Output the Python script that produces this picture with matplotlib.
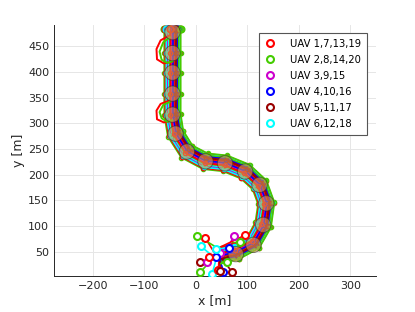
import matplotlib.pyplot as plt
import numpy as np
from matplotlib.patches import Circle

# centre line of the swarm
path_x = [45, 78, 112, 131, 137, 124, 96, 57, 19, -17, -39, -45, -45, -45, -45, -45]
path_y = [42, 50, 68, 102, 144, 180, 206, 222, 226, 245, 280, 317, 358, 399, 437, 484]

# target areas (circle centres)
zone_x = [78, 112, 131, 137, 124, 96, 57, 19, -17, -39, -45, -45, -45, -45, -45]
zone_y = [45, 63, 102, 144, 180, 206, 222, 226, 245, 280, 317, 358, 399, 437, 478]
zone_r = 15

# start positions of UAV 1..20
start_x = [19, 3, 75, 64, 9, 10, 96, 87, 22, 54, 70, 32, 44, 9, 48, 40, 48, 40, 25, 60]
start_y = [76, 81, 81, 57, 30, 60, 82, 68, 29, 11, 11, 6, 14, 10, 47, 40, 12, 55, 40, 30]

# lateral position of each UAV inside the band
lane = [-15, 16, -11, 11, -5, -13, 14, -12, 9, -9, 3, 7, -3, 5, 1, -1, -7, 12, 4, -16]

# detours on the left of the column
red_loop1_x = [-50, -68, -76, -75, -62, -46]
red_loop1_y = [472, 462, 445, 425, 417, 420]
green_loop1_x = [-50, -63, -70, -66, -55, -45]
green_loop1_y = [468, 458, 440, 424, 418, 421]
red_loop2_x = [-50, -68, -76, -75, -62, -46]
red_loop2_y = [345, 338, 325, 308, 302, 305]
green_loop2_x = [-50, -63, -70, -66, -55, -45]
green_loop2_y = [342, 336, 322, 310, 303, 306]

colors = ['#ff0000', '#44cc00', '#cc00cc', '#0000ff', '#990000', '#00ffff']
labels = ['UAV 1,7,13,19', 'UAV 2,8,14,20', 'UAV 3,9,15', 'UAV 4,10,16',
          'UAV 5,11,17', 'UAV 6,12,18']

plt.rcParams['font.family'] = 'DejaVu Sans'
fig = plt.figure(figsize=(4.15, 3.12), dpi=100)
ax = fig.add_axes([0.130, 0.115, 0.776, 0.805])

px = np.array(path_x, float)
py = np.array(path_y, float)
seg = np.diff(np.c_[px, py], axis=0)
seg = seg / np.linalg.norm(seg, axis=1)[:, None]
tang = np.vstack([seg[0], (seg[:-1] + seg[1:]) / 2, seg[-1]])
tang = tang / np.linalg.norm(tang, axis=1)[:, None]
nx, ny = -tang[:, 1], tang[:, 0]

for i in range(20):
    c = colors[i % 6]
    xs = [start_x[i]] + list(px + lane[i] * nx)
    ys = [start_y[i]] + list(py + lane[i] * ny)
    ax.plot(xs, ys, color=c, lw=1.2, zorder=2)
    ax.plot(xs[2:-1], ys[2:-1], 'o', mfc='none', mec=c, mew=1.0, ms=3, zorder=2)
    ax.plot(xs[-1], ys[-1], 'o', mfc='none', mec=c, mew=1.3, ms=4.5, zorder=2)

for lx, ly, c in [(red_loop1_x, red_loop1_y, colors[0]), (green_loop1_x, green_loop1_y, colors[1]),
                  (red_loop2_x, red_loop2_y, colors[0]), (green_loop2_x, green_loop2_y, colors[1])]:
    ax.plot(lx, ly, color=c, lw=1.4, zorder=2)

for x, y in zip(zone_x, zone_y):
    ax.add_patch(Circle((x, y), zone_r, fc=(0.82, 0.62, 0.35), alpha=0.6,
                        ec=(0.2, 0.2, 0.15), lw=0.7, zorder=3))

# start markers (on top)
for i in range(20):
    ax.plot(start_x[i], start_y[i], 'o', mfc='white', mec=colors[i % 6], mew=1.5, ms=5, zorder=4)

handles = [ax.plot([], [], 'o', mfc='none', mec=c, mew=1.5, ms=5)[0] for c in colors]
leg = ax.legend(handles, labels, loc='upper right', bbox_to_anchor=(0.972, 0.968), fontsize=7.2,
                frameon=True, fancybox=False, edgecolor='#555555', framealpha=1,
                handlelength=1.0, handletextpad=1.5, labelspacing=0.6, borderpad=0.6,
                borderaxespad=0)
leg.get_frame().set_linewidth(0.8)

ax.set_xlim(-275, 350)
ax.set_ylim(2, 492)
ax.set_xticks([-200, -100, 0, 100, 200, 300])
ax.set_yticks([50, 100, 150, 200, 250, 300, 350, 400, 450])
ax.grid(True, color='#e6e6e6', lw=0.7)
ax.set_axisbelow(True)
for s in ['top', 'right']:
    ax.spines[s].set_visible(False)
for s in ['bottom', 'left']:
    ax.spines[s].set_color('#262626')
    ax.spines[s].set_linewidth(0.7)
ax.tick_params(labelsize=8, colors='#262626', length=0)
ax.set_xlabel('x [m]', fontsize=9, color='#262626', labelpad=2)
ax.set_ylabel('y [m]', fontsize=9, color='#262626', labelpad=2)

fig.savefig('out.png', dpi=100)
